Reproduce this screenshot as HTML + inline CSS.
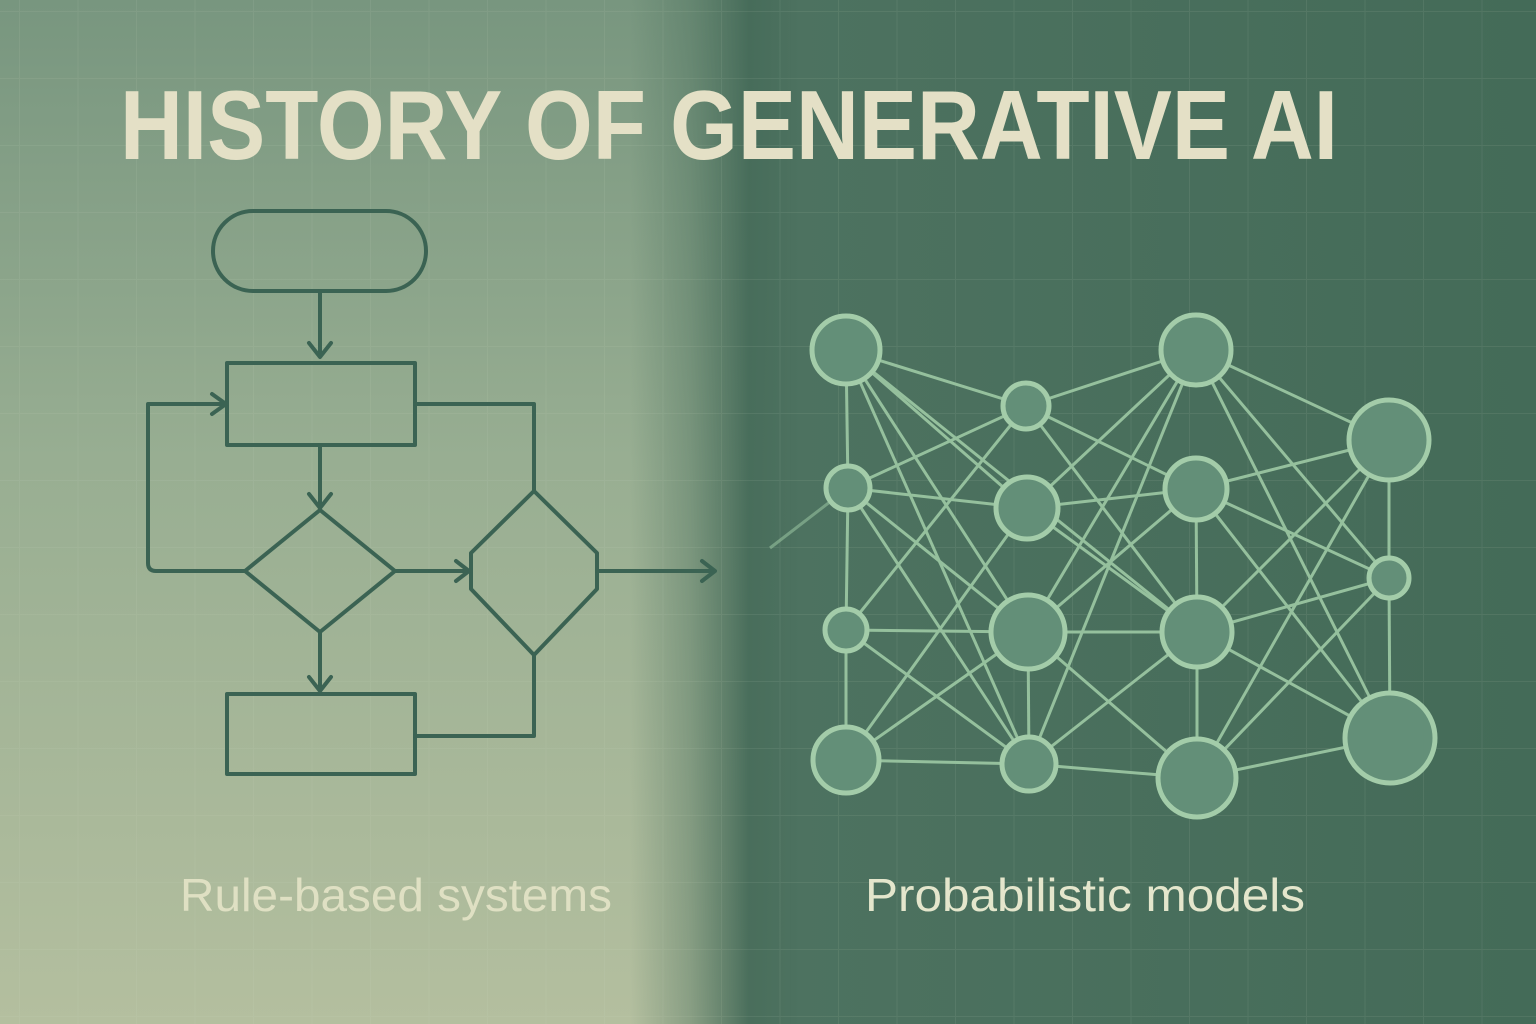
<!DOCTYPE html>
<html><head><meta charset="utf-8"><style>
html,body{margin:0;padding:0;width:1536px;height:1024px;overflow:hidden}
</style></head><body>
<svg width="1536" height="1024" viewBox="0 0 1536 1024" xmlns="http://www.w3.org/2000/svg">
<defs>
<linearGradient id="lv" x1="0" y1="0" x2="0" y2="1">
<stop offset="0" stop-color="#78967f"/><stop offset="0.45" stop-color="#98ae92"/><stop offset="1" stop-color="#b4bf9f"/>
</linearGradient>
<linearGradient id="rv" x1="0" y1="0" x2="1" y2="0">
<stop offset="0" stop-color="#4d7260"/><stop offset="1" stop-color="#446b58"/>
</linearGradient>
<linearGradient id="tr" x1="0" y1="0" x2="1" y2="0">
<stop offset="0" stop-color="#4a6f5c" stop-opacity="0"/>
<stop offset="0.35" stop-color="#4a6f5c" stop-opacity="0.4"/>
<stop offset="0.7" stop-color="#446a58" stop-opacity="0.95"/>
<stop offset="1" stop-color="#4d7260" stop-opacity="1"/>
</linearGradient>
<pattern id="grid" width="58.5" height="67" patternUnits="userSpaceOnUse" x="20" y="12">
<path d="M58.5 0V67M0 67H58.5" fill="none" stroke="#d8e0c8" stroke-opacity="0.09" stroke-width="2"/>
</pattern>
</defs>
<rect width="1536" height="1024" fill="url(#lv)"/>
<rect x="790" width="746" height="1024" fill="url(#rv)"/>
<rect x="630" width="170" height="1024" fill="url(#tr)"/>
<rect width="1536" height="1024" fill="url(#grid)"/>

<text x="120" y="159" textLength="1218" lengthAdjust="spacingAndGlyphs" font-family="Liberation Sans, sans-serif" font-weight="bold" font-size="98" fill="#e4e0c6">HISTORY OF GENERATIVE AI</text>

<g fill="none" stroke="#3b6353" stroke-width="4" stroke-linejoin="round" stroke-linecap="round">
<rect x="213" y="211" width="213" height="80" rx="40"/>
<path d="M320 291V356M309 343L320 357L331 343"/>
<rect x="227" y="363" width="188" height="82"/>
<path d="M320 445V507M309 494L320 508L331 494"/>
<path d="M320 510L395 571L320 632L245 571Z"/>
<path d="M245 571H156Q148 571 148 563V404H224M212 394L226 404L212 414"/>
<path d="M415 404H534V491"/>
<path d="M534 491L471 553V589L534 655L597 589V553Z"/>
<path d="M395 571H468M456 561L469 571L456 581"/>
<path d="M597 571H714M702 561L715 571L702 581"/>
<path d="M320 632V690M309 677L320 691L331 677"/>
<rect x="227" y="694" width="188" height="80"/>
<path d="M534 655V736H415"/>
</g>

<g stroke="#95c09d" stroke-width="3" fill="none">
<line x1="848" y1="488" x2="770" y2="548" stroke-opacity="0.6"/>
<line x1="846" y1="350" x2="1026" y2="406"/>
<line x1="846" y1="350" x2="848" y2="488"/>
<line x1="846" y1="350" x2="1027" y2="508"/>
<line x1="846" y1="350" x2="1028" y2="632"/>
<line x1="846" y1="350" x2="1029" y2="764"/>
<line x1="846" y1="350" x2="1197" y2="632"/>
<line x1="1026" y1="406" x2="1196" y2="350"/>
<line x1="1026" y1="406" x2="848" y2="488"/>
<line x1="1026" y1="406" x2="1196" y2="489"/>
<line x1="1026" y1="406" x2="1197" y2="632"/>
<line x1="1026" y1="406" x2="846" y2="630"/>
<line x1="1196" y1="350" x2="1389" y2="440"/>
<line x1="1196" y1="350" x2="1027" y2="508"/>
<line x1="1196" y1="350" x2="1028" y2="632"/>
<line x1="1196" y1="350" x2="1029" y2="764"/>
<line x1="1196" y1="350" x2="1389" y2="578"/>
<line x1="1196" y1="350" x2="1390" y2="738"/>
<line x1="848" y1="488" x2="1027" y2="508"/>
<line x1="848" y1="488" x2="846" y2="630"/>
<line x1="848" y1="488" x2="1028" y2="632"/>
<line x1="848" y1="488" x2="1029" y2="764"/>
<line x1="1027" y1="508" x2="1196" y2="489"/>
<line x1="1027" y1="508" x2="846" y2="760"/>
<line x1="1027" y1="508" x2="1197" y2="632"/>
<line x1="1196" y1="489" x2="1389" y2="440"/>
<line x1="1196" y1="489" x2="1197" y2="632"/>
<line x1="1196" y1="489" x2="1389" y2="578"/>
<line x1="1196" y1="489" x2="1028" y2="632"/>
<line x1="1196" y1="489" x2="1390" y2="738"/>
<line x1="846" y1="630" x2="1028" y2="632"/>
<line x1="846" y1="630" x2="846" y2="760"/>
<line x1="846" y1="630" x2="1029" y2="764"/>
<line x1="1028" y1="632" x2="1197" y2="632"/>
<line x1="1028" y1="632" x2="846" y2="760"/>
<line x1="1028" y1="632" x2="1197" y2="778"/>
<line x1="1028" y1="632" x2="1029" y2="764"/>
<line x1="1197" y1="632" x2="1389" y2="578"/>
<line x1="1197" y1="632" x2="1197" y2="778"/>
<line x1="1197" y1="632" x2="1390" y2="738"/>
<line x1="1197" y1="632" x2="1029" y2="764"/>
<line x1="1389" y1="440" x2="1389" y2="578"/>
<line x1="1389" y1="440" x2="1197" y2="778"/>
<line x1="1389" y1="440" x2="1197" y2="632"/>
<line x1="1389" y1="578" x2="1390" y2="738"/>
<line x1="1389" y1="578" x2="1197" y2="778"/>
<line x1="846" y1="760" x2="1029" y2="764"/>
<line x1="1029" y1="764" x2="1197" y2="778"/>
<line x1="1197" y1="778" x2="1390" y2="738"/>
</g>
<g fill="#638f78" stroke="#a3cca9" stroke-width="5">
<circle cx="846" cy="350" r="34"/>
<circle cx="1026" cy="406" r="23"/>
<circle cx="1196" cy="350" r="35"/>
<circle cx="1389" cy="440" r="40"/>
<circle cx="848" cy="488" r="22"/>
<circle cx="1027" cy="508" r="31"/>
<circle cx="1196" cy="489" r="31"/>
<circle cx="846" cy="630" r="21"/>
<circle cx="1028" cy="632" r="37"/>
<circle cx="1197" cy="632" r="35"/>
<circle cx="1389" cy="578" r="20"/>
<circle cx="846" cy="760" r="33"/>
<circle cx="1029" cy="764" r="27"/>
<circle cx="1197" cy="778" r="39"/>
<circle cx="1390" cy="738" r="45"/>
</g>

<text x="180" y="911" textLength="432" lengthAdjust="spacingAndGlyphs" font-family="Liberation Sans, sans-serif" font-size="46" fill="#dfe0c3">Rule-based systems</text>
<text x="865" y="911" textLength="440" lengthAdjust="spacingAndGlyphs" font-family="Liberation Sans, sans-serif" font-size="46" fill="#e4e6cc">Probabilistic models</text>
</svg>
</body></html>
